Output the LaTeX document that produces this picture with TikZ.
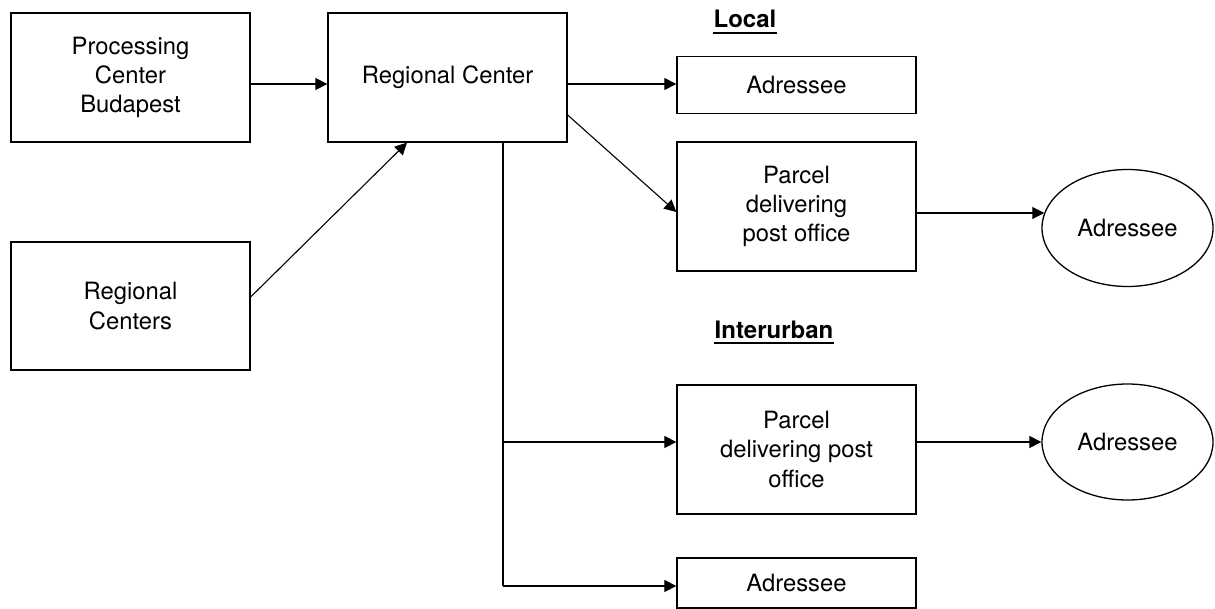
\documentclass[tikz,border=0pt]{standalone}
\usepackage{fontspec}
\setmainfont{TeX Gyre Heros}
\usetikzlibrary{shapes.geometric,arrows.meta}
\begin{document}
\begin{tikzpicture}[x=0.5pt,y=-0.5pt,
  box/.style={draw,line width=0.65pt,rectangle,align=center,inner sep=0pt,
    font=\fontsize{11.9}{14.6}\selectfont},
  bigbox/.style={box,minimum width=119.5pt,minimum height=64.5pt},
  oval/.style={draw,line width=0.65pt,ellipse,inner sep=0pt,minimum width=85.5pt,
    minimum height=58.5pt,font=\fontsize{11.9}{14.6}\selectfont},
  arr/.style={line width=0.55pt,-{Triangle[length=6pt,width=6pt]}},
  lne/.style={line width=0.65pt},
  lbl/.style={inner sep=0pt,font=\fontsize{12}{14}\selectfont\bfseries}]
\useasboundingbox (0,0) rectangle (1215,609);
\node[bigbox] (pcb) at (130.5,77.5) {Processing\\Center\\Budapest};
\node[bigbox,minimum height=64pt] (rcs) at (130.5,306) {Regional\\Centers};
\node[bigbox] (rc) at (447.5,77.5) {Regional Center};
\node[box,minimum width=119.5pt,minimum height=28.5pt] (a1) at (796.5,85) {Adressee};
\node[bigbox] (p1) at (796.5,206.5) {Parcel\\delivering\\post office};
\node[oval] (e1) at (1127.5,228) {Adressee};
\node[bigbox] (p2) at (796.5,449.5) {Parcel\\delivering post\\office};
\node[oval,minimum height=58pt] (e2) at (1127.5,442) {Adressee};
\node[box,minimum width=119.5pt,minimum height=25pt] (a2) at (796.5,583) {Adressee};
\node[lbl,anchor=base] (loc) at (745,28) {Local};
\draw[line width=0.8pt] ([yshift=-2.5pt]loc.base west) -- ([yshift=-2.5pt]loc.base east);
\node[lbl,anchor=base] (inter) at (774,338) {Interurban};
\draw[line width=0.8pt] ([yshift=-2.5pt]inter.base west) -- ([yshift=-2.5pt]inter.base east);
% connectors
\draw[arr] ([yshift=-3.25pt]pcb.east) -- ([yshift=-3.25pt]rc.west);
\draw[arr] ([yshift=4.5pt]rcs.east) -- ([xshift=-20.25pt]rc.south);
\draw[arr] ([yshift=-3.25pt]rc.east) -- ([yshift=-3.25pt]rc.east -| a1.west);
\draw[arr] ([yshift=-18.75pt]rc.east) -- ([yshift=-2.75pt]p1.west);
\draw[arr] ([yshift=-3.25pt]p1.east) -- ([yshift=-3.25pt,xshift=1.45pt]p1.east -| e1.west);
\draw[arr] (p2.east |- e2.west) -- (e2.west);
\coordinate (t) at ([xshift=27.75pt]rc.south);
\draw[lne] (t) -- (t |- 0,586);
\draw[arr] (t |- 0,586) -- ([yshift=-1.5pt]a2.west);
\draw[arr] (t |- e2.west) -- (p2.west |- e2.west);
\end{tikzpicture}
\end{document}
